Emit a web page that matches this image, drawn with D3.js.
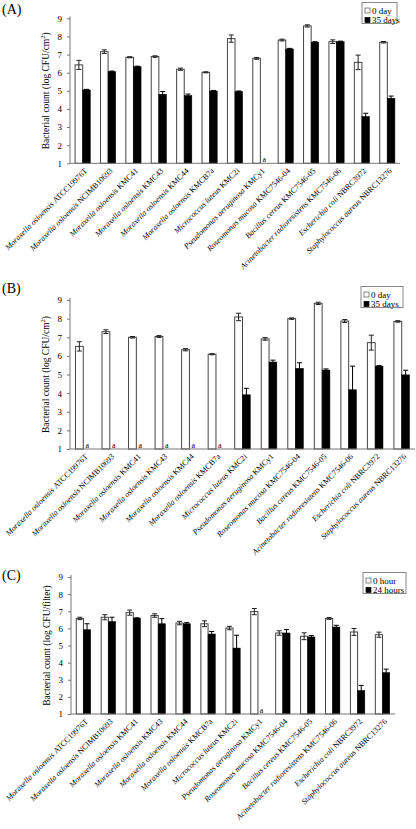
<!DOCTYPE html>
<html><head><meta charset="utf-8">
<script src="https://cdn.jsdelivr.net/npm/d3@7/dist/d3.min.js"></script>
<style>body{margin:0;background:#fff}svg{display:block;font-family:"Liberation Serif","Times New Roman",serif}</style>
</head><body><svg id="c" width="416" height="829"></svg>
<script>
const species = ["Moraxella osloensis","Moraxella osloensis","Moraxella osloensis","Moraxella osloensis","Moraxella osloensis","Moraxella osloensis","Micrococcus luteus","Pseudomonas aeruginosa","Roseomonas mucosa","Bacillus cereus","Acinetobacter radioresistens","Escherichia coli","Staphylococcus aureus"];
const strains = ["ATCC19976T","NCIMB10693","KMC41","KMC43","KMC44","KMCB7a","KMC2i","KMCy1","KMC7546-04","KMC7546-05","KMC7546-06","NBRC3972","NBRC13276"];
const yTicks = [1,2,3,4,5,6,7,8,9];

// Panel A
const A_day0 = [6.43,7.16,6.85,6.89,6.19,6.02,7.88,6.79,7.80,8.58,7.71,6.57,7.68];
const A_day0Err = [0.25,0.1,0.03,0.04,0.06,0.03,0.2,0.05,0.05,0.06,0.1,0.4,0.04];
const A_day35 = [5.05,6.06,6.33,4.81,4.74,4.99,4.96,null,7.31,7.68,7.71,3.58,4.59];
const A_day35Err = [0.03,0.03,0.03,0.15,0.08,0.03,0.03,null,0.03,0.03,0.03,0.18,0.12];
// Panel B
const B_day0 = [6.51,7.30,7.00,7.04,6.33,6.09,8.09,6.91,8.00,8.82,7.87,6.71,7.85];
const B_day0Err = [0.25,0.1,0.04,0.05,0.06,0.03,0.2,0.07,0.04,0.06,0.08,0.4,0.04];
const B_day35 = [null,null,null,null,null,null,3.91,5.67,5.33,5.24,4.18,5.45,4.98];
const B_day35Err = [null,null,null,null,null,null,0.35,0.1,0.3,0.06,1.27,0.03,0.25];
// Panel C
const C_hour0 = [6.58,6.65,6.92,6.75,6.31,6.27,6.02,6.98,5.73,5.54,6.58,5.79,5.63];
const C_hour0Err = [0.07,0.15,0.15,0.1,0.1,0.17,0.1,0.18,0.13,0.2,0.05,0.2,0.15];
const C_hour24 = [5.92,6.40,6.60,6.27,6.27,5.67,4.85,null,5.73,5.50,6.08,2.37,3.42];
const C_hour24Err = [0.35,0.25,0.02,0.3,0.07,0.15,0.75,null,0.2,0.08,0.1,0.3,0.2];

const svg = d3.select("#c");

function panel(o){
  const g = svg.append("g");
  const x = d3.scaleBand().domain(d3.range(species.length)).range([o.x0,o.x1]).paddingInner(0).paddingOuter(0);
  const y = d3.scaleLinear().domain([1,9]).range([o.yb,o.yt]);
  const bw = o.bw;
  const cx = i => x(i)+x.bandwidth()/2;
  // panel letter
  g.append("text").attr("x",2).attr("y",o.letterY).attr("font-size",14).text(o.letter);
  // y axis
  const ya = d3.axisLeft(y).tickValues(yTicks).tickSize(3).tickPadding(5).tickFormat(d3.format("d"));
  const ag = g.append("g").attr("transform",`translate(${o.x0},0)`).call(ya);
  ag.select(".domain").attr("d",`M0,${o.yb}V${o.yt-2}`).attr("stroke","#777");
  ag.selectAll(".tick line").attr("stroke","#777");
  ag.selectAll(".tick text").attr("font-size",9).attr("font-family","Liberation Serif");
  // y title
  const tt = g.append("text").attr("transform",`translate(${o.x0-21},${(o.yt+o.yb)/2}) rotate(-90)`)
    .attr("text-anchor","middle").attr("font-size",9.5);
  tt.append("tspan").text(o.ytitle);
  if(o.sup){ tt.append("tspan").attr("font-size",6.5).attr("dy",-4).text("2"); tt.append("tspan").attr("dy",4).text(")"); }
  // bars
  const s0 = o.s0, s1 = o.s1;
  g.selectAll(".w").data(s0).join("rect").attr("x",(d,i)=>cx(i)-bw).attr("y",d=>y(d)).attr("width",bw).attr("height",d=>y(1)-y(d))
    .attr("fill","#fff").attr("stroke","#444").attr("stroke-width",1);
  g.selectAll(".b").data(s1.map((d,i)=>({d,i})).filter(e=>e.d!=null)).join("rect").attr("x",e=>cx(e.i)).attr("y",e=>y(e.d)).attr("width",bw).attr("height",e=>y(1)-y(e.d))
    .attr("fill","#000").attr("stroke","#000").attr("stroke-width",0.5);
  function err(vals, errs, off){
    vals.forEach((v,i)=>{
      if(v==null) return;
      const xc = cx(i)+off, e = errs[i];
      const p = d3.path();
      p.moveTo(xc,y(v-e)); p.lineTo(xc,y(v+e));
      p.moveTo(xc-2.5,y(v+e)); p.lineTo(xc+2.5,y(v+e));
      p.moveTo(xc-2.5,y(v-e)); p.lineTo(xc+2.5,y(v-e));
      g.append("path").attr("d",p.toString()).attr("stroke",off<0?"#222":"#000").attr("stroke-width",1).attr("fill","none");
    });
  }
  err(s0,o.e0,-bw/2);
  err(s1,o.e1,bw/2);
  // 'a' markers
  s1.forEach((v,i)=>{ if(v==null) g.append("text").attr("x",cx(i)+bw/2).attr("y",o.yb-1.5).attr("text-anchor","middle").attr("font-size",8).text("a"); });
  // x axis line
  g.append("line").attr("x1",o.x0).attr("x2",o.x1).attr("y1",o.yb).attr("y2",o.yb).attr("stroke","#777");
  // category labels
  species.forEach((sp,i)=>{
    const t = g.append("text").attr("transform",`translate(${cx(i)+5},${o.yb+8}) rotate(-45)`).attr("text-anchor","end").attr("font-size",8);
    t.append("tspan").attr("font-style","italic").text(sp+" ");
    t.append("tspan").text(strains[i]);
  });
  // legend
  const lg = g.append("g");
  lg.append("rect").attr("x",o.lx).attr("y",o.ly).attr("width",o.lw).attr("height",21).attr("fill","#fff").attr("stroke","#888");
  o.legend.forEach((lab,k)=>{
    const yy = o.ly+4+k*9.5;
    lg.append("rect").attr("x",o.lx+3).attr("y",yy+1.5).attr("width",5).attr("height",5).attr("fill",k?"#000":"#fff").attr("stroke",k?"#000":"#555").attr("stroke-width",0.7);
    lg.append("text").attr("x",o.lx+10).attr("y",yy+7).attr("font-size",9).text(lab);
  });
}

panel({letter:"(A)",letterY:14,x0:70,x1:400,yt:18.3,yb:163.3,bw:7.6,s0:A_day0,e0:A_day0Err,s1:A_day35,e1:A_day35Err,
  ytitle:"Bacterial count (log CFU/cm",sup:true,lx:362,ly:2.5,lw:35,legend:["0 day","35 days"]});
panel({letter:"(B)",letterY:293,x0:70,x1:415,yt:300,yb:449,bw:7.8,s0:B_day0,e0:B_day0Err,s1:B_day35,e1:B_day35Err,
  ytitle:"Bacterial count (log CFU/cm",sup:true,lx:361,ly:286.5,lw:42,legend:["0 day","35 days"]});
panel({letter:"(C)",letterY:580,x0:71,x1:395,yt:577,yb:714,bw:7.2,s0:C_hour0,e0:C_hour0Err,s1:C_hour24,e1:C_hour24Err,
  ytitle:"Bacterial count (log CFU/filter)",sup:false,lx:363,ly:572.5,lw:43,legend:["0 hour","24 hours"]});
</script></body></html>
